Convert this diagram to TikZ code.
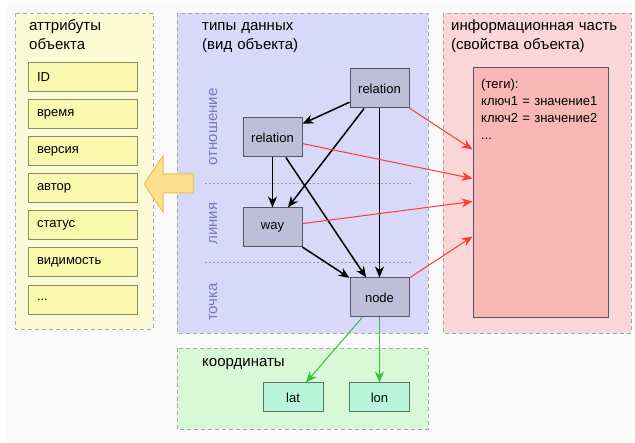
\documentclass[tikz,border=0pt]{standalone}
\usepackage{fontspec}
\setmainfont{Liberation Sans}
\usetikzlibrary{arrows.meta,calc}
\definecolor{bgc}{HTML}{FAFAFA}
\definecolor{pborder}{HTML}{A8A8A8}
\definecolor{ypanel}{HTML}{FBFBD6}
\definecolor{yfill}{HTML}{FBF8B0}
\definecolor{yborder}{HTML}{8C8C68}
\definecolor{bpanel}{HTML}{D8D8F8}
\definecolor{ofill}{HTML}{BEBED8}
\definecolor{oborder}{HTML}{555566}
\definecolor{rpanel}{HTML}{FAD6D6}
\definecolor{tfill}{HTML}{F8B8B8}
\definecolor{gpanel}{HTML}{D8F9D8}
\definecolor{cfill}{HTML}{B8F6DC}
\definecolor{cborder}{HTML}{5C7262}
\definecolor{sidelbl}{HTML}{7878B8}
\definecolor{redline}{HTML}{FF3A3A}
\definecolor{greenline}{HTML}{38C038}
\definecolor{arrfill}{HTML}{FFE08E}
\definecolor{arrborder}{HTML}{E8C050}
\newcommand{\ftitle}{\fontsize{15}{19}\selectfont}
\newcommand{\fsmall}{\fontsize{13}{16.7}\selectfont}
\newcommand{\fside}{\fontsize{15}{18}\selectfont}
\begin{document}
\begin{tikzpicture}[x=1pt,y=-1pt,
  panel/.style={draw=pborder, dash pattern=on 4pt off 3pt, line width=0.8pt},
  title/.style={anchor=base west, align=left, text width=200pt, inner sep=0pt, font=\ftitle},
  obj/.style={draw=oborder, fill=ofill, line width=1pt, minimum width=59pt, minimum height=39pt, inner sep=0pt, font=\fsmall},
  attr/.style={draw=yborder, fill=yfill, line width=1pt, minimum width=109pt, minimum height=29pt, text width=91pt, align=left, inner xsep=9pt, inner ysep=0pt, font=\fsmall},
  coord/.style={draw=cborder, fill=cfill, line width=1pt, minimum width=60pt, minimum height=29pt, inner sep=0pt, font=\fsmall},
  side/.style={anchor=base, rotate=90, text=sidelbl, font=\fside, inner sep=0pt},
  sep/.style={draw=gray!80, line width=0.5pt, dash pattern=on 2pt off 2pt},
  tip/.style={-{Stealth[length=11pt,width=9pt,inset=3.5pt]}},
  blk/.style={tip, line width=1.5pt, black},
  red/.style={tip, draw=redline, line width=1pt},
  grn/.style={tip, draw=greenline, line width=1pt}
]
\useasboundingbox (0,0) rectangle (635,443);
\fill[bgc] (7,3) rectangle (632,443);

% panels
\draw[panel, fill=ypanel] (15,13) rectangle (153,329);
\draw[panel, fill=bpanel] (177,13) rectangle (428,333);
\draw[panel, fill=rpanel] (443,13) rectangle (631,333);
\draw[panel, fill=gpanel] (177,348) rectangle (428,429);

% titles
\node[title] (tA) at (29,31) {аттрибуты\\объекта};
\node[title] (tB) at (202,31) {типы данных\\(вид объекта)};
\node[title] (tC) at (451,31) {информационная часть\\(свойства объекта)};
\node[title] (tD) at (202,367) {координаты};

% attributes
\node[attr] (a1) at (82.5,77) {ID};
\node[attr] (a2) at (82.5,114) {время};
\node[attr] (a3) at (82.5,151) {версия};
\node[attr] (a4) at (82.5,188) {автор};
\node[attr] (a5) at (82.5,225.5) {статус};
\node[attr] (a6) at (82.5,262.5) {видимость};
\node[attr] (a7) at (82.5,300) {...};

% big arrow
\draw[fill=arrfill, draw=arrborder, line width=1pt, line join=miter]
  (144,184) -- (163,156) -- (163,174) -- (193,174) -- (193,193) -- (163,193) -- (163,212) -- cycle;

% separators and side labels
\draw[sep] (205,183) -- (412,183);
\draw[sep] (205,262) -- (412,262);
\node[side] (s1) at (217,127) {отношение};
\node[side] (s2) at (217,223.5) {линия};
\node[side] (s3) at (217,302) {точка};

% type nodes
\node[obj] (relT) at (379.5,88.5) {relation};
\node[obj] (relL) at (272.5,137.5) {relation};
\node[obj] (way) at (272.5,227.5) {way};
\node[obj] (nd) at (379.5,297.5) {node};

% tags
\node[draw=oborder, fill=tfill, line width=1pt, minimum width=135pt, minimum height=250pt, inner sep=0pt] (tags) at (540.5,193) {};
\node[anchor=base west, align=left, text width=125pt, inner sep=0pt, font=\fsmall] (tagtxt) at (481,89)
  {(теги):\\ключ1 = значение1\\ключ2 = значение2\\...};
\coordinate (t1) at ([yshift=-82pt]tags.north west);
\coordinate (t2) at ([yshift=-111pt]tags.north west);
\coordinate (t3) at ([yshift=-134pt]tags.north west);
\coordinate (t4) at ([yshift=-169pt]tags.north west);

% coordinates
\node[coord] (lat) at (293,397.5) {lat};
\node[coord] (lon) at (379.5,397.5) {lon};

% black arrows
\draw[blk] (relT) -- (relL);
\draw[blk] (relT) -- (way);
\draw[blk] (relT) -- (nd);
\draw[blk] (relL) -- (way);
\draw[blk] (relL) -- (nd);
\draw[blk] (way) -- (nd);

% red arrows
\draw[red] (relT) -- (t1);
\draw[red] (relL) -- (t2);
\draw[red] (way) -- (t3);
\draw[red] (nd) -- (t4);

% green arrows
\draw[grn] (nd) -- (lat);
\draw[grn] (nd) -- (lon);
\end{tikzpicture}
\end{document}
